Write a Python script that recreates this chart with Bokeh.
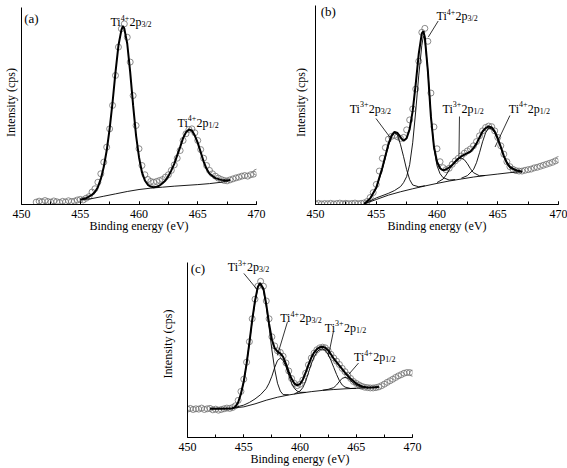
from bokeh.plotting import figure
from bokeh.models import Range1d, SingleIntervalTicker, FixedTicker, Spacer
from bokeh.layouts import column, row
from bokeh.core.properties import value
from bokeh.embed import file_html
from bokeh.resources import INLINE

FONT = "Liberation Serif"

# ---------------- data (intensity in arbitrary units) ----------------
scan_energy = [450.0,
               450.25, 450.5, 450.75, 451.0, 451.25, 451.5, 451.75, 452.0,
               452.25, 452.5, 452.75, 453.0, 453.25, 453.5, 453.75, 454.0,
               454.25, 454.5, 454.75, 455.0, 455.25, 455.5, 455.75, 456.0,
               456.25, 456.5, 456.75, 457.0, 457.25, 457.5, 457.75, 458.0,
               458.25, 458.5, 458.75, 459.0, 459.25, 459.5, 459.75, 460.0,
               460.25, 460.5, 460.75, 461.0, 461.25, 461.5, 461.75, 462.0,
               462.25, 462.5, 462.75, 463.0, 463.25, 463.5, 463.75, 464.0,
               464.25, 464.5, 464.75, 465.0, 465.25, 465.5, 465.75, 466.0,
               466.25, 466.5, 466.75, 467.0, 467.25, 467.5, 467.75, 468.0,
               468.25, 468.5, 468.75, 469.0, 469.25, 469.5, 469.75, 470.0]

# panel (a)
a_energy = [451.25, 451.5, 451.75, 452.0, 452.25, 452.5, 452.75, 453.0,
            453.25, 453.5, 453.75, 454.0, 454.25, 454.5, 454.75, 455.0,
            455.25, 455.5, 455.75, 456.0, 456.25, 456.5, 456.75, 457.0,
            457.25, 457.5, 457.75, 458.0, 458.25, 458.5, 458.75, 459.0,
            459.25, 459.5, 459.75, 460.0, 460.25, 460.5, 460.75, 461.0,
            461.25, 461.5, 461.75, 462.0, 462.25, 462.5, 462.75, 463.0,
            463.25, 463.5, 463.75, 464.0, 464.25, 464.5, 464.75, 465.0,
            465.25, 465.5, 465.75, 466.0, 466.25, 466.5, 466.75, 467.0,
            467.25, 467.5, 467.75, 468.0, 468.25, 468.5, 468.75, 469.0,
            469.25, 469.5, 469.75, 470.0]
a_counts = [1.2, 1.7, 1.4, 2.0, 1.5, 1.2, 1.8, 1.4,
            1.0, 1.6, 1.3, 1.9, 1.5, 1.7, 2.3, 2.6,
            2.3, 3.2, 4.0, 6.3, 8.0, 11.3, 15.6, 21.5,
            29.1, 38.4, 50.3, 65.5, 79.9, 89.2, 91.7, 84.9,
            72.3, 55.3, 40.1, 28.3, 19.8, 15.1, 12.7, 11.7,
            11.3, 11.7, 12.2, 12.7, 13.9, 15.1, 17.3, 20.1,
            23.5, 27.4, 32.5, 35.9, 38.1, 38.4, 36.4, 32.5,
            27.9, 23.5, 19.8, 17.3, 15.6, 14.4, 13.4, 12.7,
            12.2, 12.0, 12.5, 13.0, 13.5, 13.9, 14.4, 14.7,
            14.4, 15.1, 15.4, 16.4]
a_fit_e = [455.0, 455.5, 456.0, 456.25, 456.5, 456.75, 457.0, 457.25, 457.5, 457.75,
           458.0, 458.25, 458.5, 458.625, 458.75, 459.0, 459.25, 459.5, 459.75, 460.0,
           460.25, 460.5, 460.75, 461.0, 461.25, 461.5, 461.75, 462.0, 462.25, 462.5,
           462.75, 463.0, 463.25, 463.5, 463.75, 464.0, 464.25, 464.5, 464.75, 465.0,
           465.25, 465.5, 465.75, 466.0, 466.5, 467.0, 467.5, 467.75]
a_fit = [2.4, 3.2, 4.9, 6.3, 8.8, 13.0, 19.0, 27.4, 38.4, 51.9,
         67.2, 80.7, 88.5, 90.6, 89.3, 81.6, 67.2, 50.3, 35.0, 24.0,
         16.4, 12.2, 10.0, 9.1, 8.8, 9.0, 9.6, 10.8, 12.2, 14.4,
         17.3, 20.6, 24.9, 29.1, 33.7, 36.7, 38.1, 37.6, 35.0, 31.3,
         26.6, 21.8, 18.1, 15.6, 13.4, 12.5, 12.2, 12.4]
a_bg_e = [455.0, 456.0, 457.0, 458.0, 459.0, 460.0, 461.0, 462.0, 463.0, 464.0,
          465.0, 466.0, 467.0, 467.75]
a_bg = [2.4, 3.0, 4.2, 5.4, 6.6, 7.6, 8.3, 8.8, 9.3, 9.7, 10.1, 10.6, 11.3, 12.2]

# panel (b)
b_counts = [0.4,
            0.6, 0.3, 0.5, 0.4, 0.6, 0.3, 0.5, 0.7,
            0.4, 0.6, 0.4, 0.5, 0.7, 0.4, 0.6, 0.8,
            1.5, 3.5, 6.0, 10.1, 16.8, 23.2, 28.6, 32.8,
            34.2, 34.7, 34.0, 33.2, 33.7, 37.5, 42.5, 48.0,
            58.0, 72.0, 86.5, 88.5, 82.0, 56.0, 39.0, 28.0,
            21.5, 18.5, 17.5, 18.2, 20.2, 21.9, 23.2, 24.4,
            25.8, 26.9, 27.9, 29.5, 31.6, 34.5, 37.0, 38.7,
            39.4, 39.1, 37.0, 33.7, 29.5, 25.3, 21.5, 19.0,
            17.7, 17.0, 16.8, 16.8, 17.2, 17.5, 17.8, 18.4,
            18.7, 19.2, 19.7, 20.2, 20.7, 21.2, 21.9, 22.6]
b_fit_e = [454.0, 454.5, 455.0, 455.5, 456.0, 456.25, 456.5, 456.75, 457.0, 457.25,
           457.5, 457.75, 458.0, 458.25, 458.5, 458.75, 458.875, 459.0, 459.25, 459.5,
           459.75, 460.0, 460.25, 460.5, 460.75, 461.0, 461.25, 461.5, 461.75, 462.0,
           462.25, 462.5, 462.75, 463.0, 463.25, 463.5, 463.75, 464.0, 464.25, 464.5,
           464.75, 465.0, 465.25, 465.5, 465.75, 466.0, 466.5, 467.0]
b_fit = [0.3, 3.0, 8.4, 18.5, 30.3, 34.5, 36.5, 35.9, 33.7, 32.0,
         33.3, 37.9, 47.0, 60.6, 75.8, 86.0, 87.0, 84.0, 67.0, 44.0,
         29.0, 21.5, 18.2, 17.2, 17.6, 18.6, 19.8, 21.4, 23.0, 24.2,
         25.1, 25.8, 26.6, 28.3, 30.6, 33.7, 36.7, 38.4, 39.2, 38.7,
         36.7, 33.3, 29.0, 24.4, 21.0, 18.9, 17.2, 16.5]
b_bg_e = [454.0, 455.0, 456.0, 457.0, 458.0, 459.0, 460.0, 461.0, 462.0, 463.0,
          464.0, 465.0, 466.0, 467.0]
b_bg = [0.3, 2.5, 4.7, 6.4, 7.9, 9.3, 10.6, 11.8, 12.8, 13.8, 14.6, 15.3, 16.0, 16.5]
b_ti3_32_e = [454.0, 454.5, 455.0, 455.5, 456.0, 456.25, 456.5, 456.75, 457.0, 457.25,
              457.5, 457.75, 458.0, 458.5, 459.0]
b_ti3_32 = [0.3, 3.0, 8.1, 17.7, 29.5, 34.0, 36.0, 35.0, 30.0, 24.0,
            17.5, 12.5, 9.8, 8.9, 9.4]
b_ti4_32_e = [454.0, 455.0, 456.0, 456.5, 457.0, 457.25, 457.5, 457.75, 458.0, 458.25,
              458.5, 458.75, 458.875, 459.0, 459.25, 459.5, 459.75, 460.0, 460.25, 460.5,
              461.0, 461.5]
b_ti4_32 = [0.3, 3.3, 5.6, 7.0, 9.0, 11.0, 14.0, 20.0, 31.0, 47.0,
            65.0, 80.0, 84.5, 83.0, 67.0, 45.0, 28.5, 19.5, 15.5, 13.5,
            12.3, 12.5]
b_ti3_12_e = [460.0, 460.5, 460.75, 461.0, 461.25, 461.5, 461.75, 462.0, 462.25, 462.5,
              462.75, 463.0, 463.5, 464.0]
b_ti3_12 = [11.0, 12.8, 14.8, 17.3, 20.0, 22.0, 23.2, 23.3, 22.5, 20.5,
            18.0, 16.0, 14.4, 14.6]
b_ti4_12_e = [462.0, 462.5, 463.0, 463.25, 463.5, 463.75, 464.0, 464.25, 464.5, 464.75,
              465.0, 465.25, 465.5, 465.75, 466.0, 466.5, 467.0]
b_ti4_12 = [13.2, 14.5, 17.5, 21.0, 26.0, 31.5, 36.0, 38.4, 38.0, 36.0,
            32.5, 28.5, 24.0, 20.5, 18.3, 17.0, 16.6]

# panel (c)
c_counts = [16.2,
            16.6, 16.0, 16.4, 16.2, 16.8, 16.0, 16.4, 16.6,
            15.8, 16.2, 15.6, 16.0, 16.4, 16.8, 16.6, 17.1,
            18.1, 21.2, 26.3, 33.3, 43.0, 54.7, 67.8, 79.0,
            86.4, 89.2, 86.4, 78.0, 67.8, 57.5, 52.3, 49.5,
            48.6, 46.4, 42.6, 38.0, 33.7, 30.9, 29.6, 30.4,
            32.8, 36.7, 41.5, 45.4, 48.2, 50.1, 51.2, 51.6,
            51.2, 49.7, 47.5, 45.4, 43.6, 41.7, 39.5, 37.6,
            35.6, 33.7, 32.0, 30.9, 30.0, 29.2, 28.7, 28.5,
            28.3, 28.3, 28.5, 28.9, 29.6, 30.5, 31.5, 32.4,
            33.3, 34.3, 35.2, 35.9, 36.7, 37.1, 37.1, 36.7]
c_fit_e = [452.0, 453.0, 454.0, 454.25, 454.5, 454.75, 455.0, 455.25, 455.5, 455.75,
           456.0, 456.25, 456.45, 456.75, 457.0, 457.25, 457.5, 457.75, 458.0, 458.25,
           458.5, 458.75, 459.0, 459.25, 459.5, 459.75, 460.0, 460.25, 460.5, 460.75,
           461.0, 461.25, 461.5, 461.75, 462.0, 462.25, 462.5, 462.75, 463.0, 463.25,
           463.5, 463.75, 464.0, 464.5, 465.0, 465.5, 466.0, 466.5, 467.0]
c_fit = [16.4, 16.4, 16.6, 17.5, 20.0, 25.0, 32.0, 42.0, 54.0, 67.0,
         78.0, 86.0, 88.3, 85.0, 76.0, 65.0, 56.0, 51.0, 49.0, 48.0,
         46.0, 42.0, 37.5, 33.5, 30.8, 29.8, 30.5, 33.0, 37.0, 41.5,
         45.5, 48.5, 50.5, 51.5, 51.8, 51.3, 49.8, 47.5, 45.0, 43.0,
         41.0, 39.0, 37.0, 33.5, 30.8, 29.2, 28.6, 28.6, 28.9]
c_bg_e = [452.0, 454.0, 455.0, 456.0, 457.0, 458.0, 459.0, 460.0, 461.0, 462.0,
          463.0, 464.0, 465.0, 466.0, 467.0]
c_bg = [16.4, 16.8, 17.5, 19.2, 21.3, 23.0, 24.3, 25.3, 26.2, 26.9,
        27.4, 27.8, 28.1, 28.4, 28.9]
c_ti3_32_e = [454.0, 454.25, 454.5, 454.75, 455.0, 455.25, 455.5, 455.75, 456.0, 456.25,
              456.45, 456.75, 457.0, 457.25, 457.5, 457.75, 458.0, 458.25, 458.5, 459.0]
c_ti3_32 = [16.8, 17.5, 20.0, 25.0, 32.0, 42.0, 54.0, 66.5, 77.5, 85.5,
            88.0, 84.0, 75.0, 63.0, 50.0, 39.0, 31.0, 26.5, 24.5, 24.4]
c_ti4_32_e = [454.0, 455.0, 455.5, 456.0, 456.5, 457.0, 457.25, 457.5, 457.75, 458.0,
              458.25, 458.5, 458.75, 459.0, 459.25, 459.5, 459.75, 460.0, 460.5]
c_ti4_32 = [16.8, 18.5, 20.0, 22.0, 24.5, 28.0, 31.0, 35.0, 40.0, 44.0,
            45.3, 44.0, 40.5, 35.5, 31.0, 28.0, 26.5, 25.8, 25.8]
c_ti3_12_e = [459.5, 460.0, 460.25, 460.5, 460.75, 461.0, 461.25, 461.5, 461.75, 462.0,
              462.25, 462.5, 462.75, 463.0, 463.25, 463.5, 463.75, 464.0, 464.5, 465.0]
c_ti3_12 = [24.9, 26.5, 28.5, 32.0, 37.0, 42.0, 46.0, 48.8, 50.3, 50.6,
            49.8, 47.5, 44.0, 40.0, 36.0, 32.5, 30.0, 28.8, 28.0, 28.1]
c_ti4_12_e = [462.0, 462.5, 463.0, 463.25, 463.5, 463.75, 464.0, 464.25, 464.5, 464.75,
              465.0, 465.5, 466.0, 466.5]
c_ti4_12 = [27.0, 27.5, 28.5, 30.0, 32.0, 33.8, 34.3, 33.8, 32.5, 31.0,
            29.8, 28.7, 28.4, 28.6]

# annotations: (energy where "Ti" starts, intensity of baseline, oxidation state, level)
panel_tags = ["(a)", "(b)", "(c)"]
tag_pos = [(450.23, 94.4), (450.43, 97.0), (450.29, 96.6)]
a_labels = [(457.54, 92.6, "4+", "3/2"), (463.26, 41.6, "4+", "1/2")]
b_labels = [(459.94, 94.5, "4+", "3/2"), (452.79, 48.0, "3+", "3/2"),
            (460.43, 48.0, "3+", "1/2"), (465.88, 48.0, "4+", "1/2")]
b_leaders = [(460.1, 92.2, 459.29, 84.2), (454.98, 43.2, 456.2, 33.2),
             (461.85, 44.2, 461.81, 25.1), (466.0, 44.7, 464.78, 28.9)]
c_labels = [(453.54, 97.2, "3+", "3/2"), (458.2, 68.2, "4+", "3/2"),
            (462.16, 62.6, "3+", "1/2"), (464.76, 45.8, "4+", "1/2")]
c_leaders = [(455.01, 93.7, 456.2, 84.4), (458.88, 65.9, 457.99, 46.9),
             (462.96, 60.3, 462.52, 46.4), (465.2, 42.5, 464.31, 35.9)]

BIG = 12
SMALL = 8


def make_panel(width, height, bl, br, bt, bb, y_stop, ylab_standoff):
    p = figure(width=width, height=height, x_range=Range1d(450, 470), y_range=Range1d(0, y_stop),
               output_backend="svg", toolbar_location=None,
               min_border_left=bl, min_border_right=br, min_border_top=bt, min_border_bottom=bb)
    p.outline_line_color = None
    p.xgrid.visible = False
    p.ygrid.visible = False
    xa = p.xaxis[0]
    xa.ticker = SingleIntervalTicker(interval=5, num_minor_ticks=2)
    xa.major_tick_in = 3
    xa.major_tick_out = 0
    xa.minor_tick_in = 3
    xa.minor_tick_out = 0
    xa.major_label_standoff = 5
    xa.axis_label = "Binding energy (eV)"
    xa.axis_label_standoff = -2
    ya = p.yaxis[0]
    ya.ticker = FixedTicker(ticks=[])
    ya.bounds = (0, 100)
    ya.major_tick_in = 0
    ya.major_tick_out = 0
    ya.minor_tick_in = 0
    ya.minor_tick_out = 0
    ya.major_label_standoff = 0
    ya.axis_label = "Intensity (cps)"
    ya.axis_label_standoff = ylab_standoff
    for ax in (xa, ya):
        ax.axis_line_color = "black"
        ax.axis_line_width = 1
        ax.major_tick_line_color = "black"
        ax.minor_tick_line_color = "black"
        ax.major_label_text_font = FONT
        ax.major_label_text_font_size = "12px"
        ax.major_label_text_color = "black"
        ax.major_label_text_line_height = 1.0
        ax.axis_label_text_font = FONT
        ax.axis_label_text_font_size = "12px"
        ax.axis_label_text_font_style = "normal"
        ax.axis_label_text_color = "black"
        ax.axis_label_text_line_height = 1.0
    sx = (width - bl - br) / 20.0
    sy = (height - bt - bb) / y_stop
    return p, sx, sy


def draw_spectrum(p, e, counts, fit_e, fit, bg_e, bg, comps):
    p.scatter(e, counts, marker="circle", size=6, fill_color=None,
              line_color="#6e6e6e", line_width=0.8)
    p.line(bg_e, bg, line_color="black", line_width=0.9)
    for ce, cv in comps:
        p.line(ce, cv, line_color="black", line_width=0.9)
    p.line(fit_e, fit, line_color="black", line_width=2.0)


def add_labels(p, labels, sx, sy):
    w_ti = 0.889 * BIG
    w_ch = 1.064 * SMALL + 0.5
    w_2p = 1.0 * BIG
    right_x, right_y, right_t = [], [], []
    left_x, left_y, left_t = [], [], []
    for (e, v, ch, sub) in labels:
        p1 = e + w_ti / sx
        p2 = p1 + (w_ch + w_2p) / sx
        right_x += [p1, p2]
        right_y += [v, v]
        right_t += ["Ti", "2p"]
        left_x += [p1, p2]
        left_y += [v + 4.5 / sy, v - 2.5 / sy]
        left_t += [ch, sub]
    p.text(right_x, right_y, text=right_t, text_font=value(FONT), text_font_size=value("%dpx" % BIG),
           text_align="right", text_baseline="alphabetic", text_color="black")
    p.text(left_x, left_y, text=left_t, text_font=value(FONT), text_font_size=value("%dpx" % SMALL),
           text_align="left", text_baseline="alphabetic", text_color="black")


def add_tag(p, i):
    p.text([tag_pos[i][0]], [tag_pos[i][1]], text=[panel_tags[i]], text_font=value(FONT),
           text_font_size=value("13px"), text_align="left", text_baseline="alphabetic",
           text_color="black")


def add_leaders(p, leaders):
    p.segment([l[0] for l in leaders], [l[1] for l in leaders],
              [l[2] for l in leaders], [l[3] for l in leaders],
              line_color="black", line_width=0.8)


# ---------------- panel (a) ----------------
pa, sxa, sya = make_panel(290, 236, 18, 34, 0, 32, 103.55, 4)
draw_spectrum(pa, a_energy, a_counts, a_fit_e, a_fit, a_bg_e, a_bg, [])
add_labels(pa, a_labels, sxa, sya)
add_tag(pa, 0)

# ---------------- panel (b) ----------------
pb, sxb, syb = make_panel(277, 236, 22, 9, 0, 32, 102.5, 8)
draw_spectrum(pb, scan_energy, b_counts, b_fit_e, b_fit, b_bg_e, b_bg,
              [(b_ti3_32_e, b_ti3_32), (b_ti4_32_e, b_ti4_32),
               (b_ti3_12_e, b_ti3_12), (b_ti4_12_e, b_ti4_12)])
add_leaders(pb, b_leaders)
add_labels(pb, b_labels, sxb, syb)
add_tag(pb, 1)

# ---------------- panel (c) ----------------
pc, sxc, syc = make_panel(275, 232, 37, 13, 14, 28, 106.8, 13)
draw_spectrum(pc, scan_energy, c_counts, c_fit_e, c_fit, c_bg_e, c_bg,
              [(c_ti3_32_e, c_ti3_32), (c_ti4_32_e, c_ti4_32),
               (c_ti3_12_e, c_ti3_12), (c_ti4_12_e, c_ti4_12)])
add_leaders(pc, c_leaders)
add_labels(pc, c_labels, sxc, syc)
add_tag(pc, 2)

layout = column(row(pa, pb), row(Spacer(width=150, height=232), pc))

open("out.html", "w").write(file_html(layout, INLINE))
